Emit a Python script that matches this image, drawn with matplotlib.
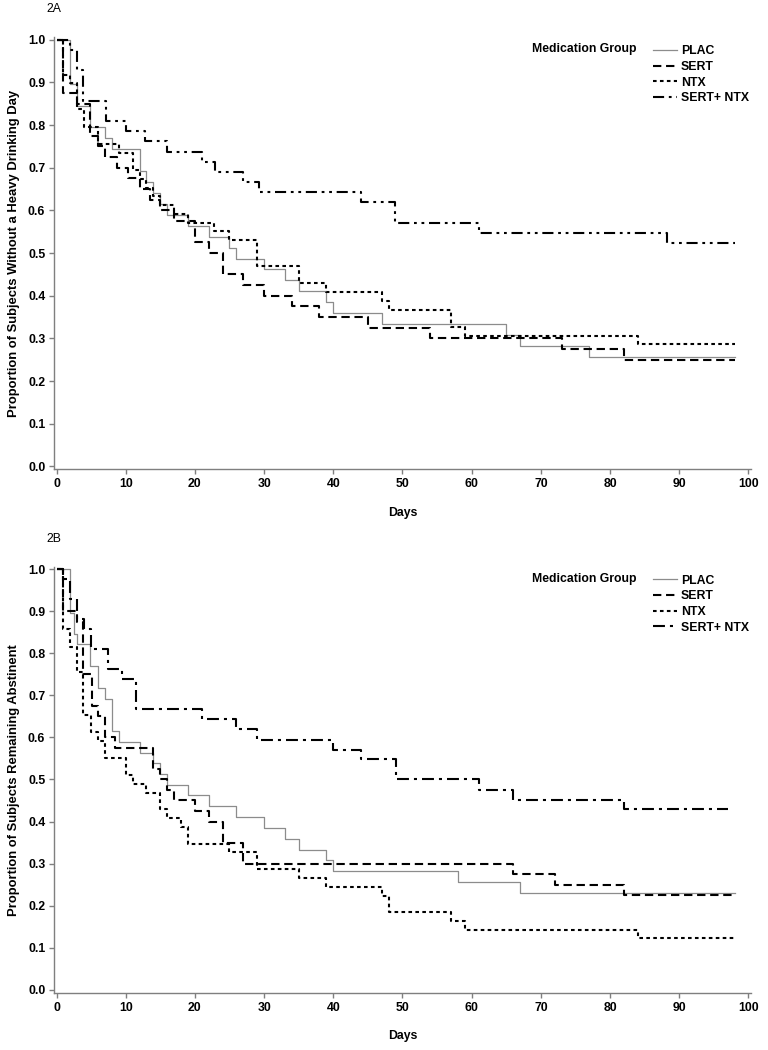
"""Kaplan-Meier style step curves by medication group, panels 2A and 2B."""
import matplotlib
matplotlib.use("Agg")
import matplotlib.pyplot as plt
from matplotlib.lines import Line2D

plt.rcParams["font.family"] = ["Liberation Sans", "DejaVu Sans"]
plt.rcParams["lines.scale_dashes"] = False

GROUPS = ["PLAC", "SERT", "NTX", "SERT+ NTX"]

# --- panel 2A: without a heavy drinking day ---
A_PLAC_T = [0, 2, 3, 4.8, 7, 8, 12, 13, 14, 15, 16, 19, 22, 25, 26, 30, 33, 35, 39, 40, 47, 65, 67, 77, 98]
A_PLAC_S = [1.0, 0.897, 0.846, 0.795, 0.769, 0.744, 0.692, 0.667, 0.641, 0.615, 0.590, 0.564, 0.538,
            0.513, 0.487, 0.462, 0.436, 0.410, 0.385, 0.359, 0.333, 0.308, 0.282, 0.256, 0.256]
A_SERT_T = [0, 1, 3, 4.8, 6, 7, 8.7, 10.4, 12, 13.5, 15, 17, 20, 22, 24, 27, 30, 34, 38, 45, 54, 73, 82, 98]
A_SERT_S = [1.0, 0.875, 0.85, 0.775, 0.75, 0.725, 0.70, 0.675, 0.65, 0.625, 0.60, 0.575, 0.525, 0.50,
            0.45, 0.425, 0.40, 0.375, 0.35, 0.325, 0.30, 0.275, 0.25, 0.25]
A_NTX_T = [0, 1, 2, 3, 4, 6, 9, 11, 12, 13, 14, 15, 17, 19, 22.7, 25, 29, 35, 39, 47, 48, 57, 59, 84, 98]
A_NTX_S = [1.0, 0.918, 0.898, 0.837, 0.796, 0.755, 0.735, 0.694, 0.673, 0.653, 0.633, 0.612, 0.592,
           0.571, 0.551, 0.531, 0.469, 0.429, 0.408, 0.388, 0.367, 0.327, 0.306, 0.286, 0.286]
A_SN_T = [0, 2, 3, 3.9, 7.2, 10, 12.8, 15.9, 21, 22.9, 27, 29.2, 44, 48.9, 61, 88.2, 98]
A_SN_S = [1.0, 0.976, 0.929, 0.857, 0.810, 0.786, 0.762, 0.738, 0.714, 0.690, 0.667, 0.643, 0.619,
          0.571, 0.548, 0.524, 0.524]

# --- panel 2B: remaining abstinent ---
B_PLAC_T = [0, 2, 2.5, 3, 4.8, 6, 7, 8, 9, 12, 14, 15, 16, 19, 22, 26, 30, 33, 35, 39, 40, 58, 67, 98]
B_PLAC_S = [1.0, 0.897, 0.846, 0.821, 0.769, 0.718, 0.692, 0.615, 0.590, 0.564, 0.538, 0.513, 0.487,
            0.462, 0.436, 0.410, 0.385, 0.359, 0.333, 0.308, 0.282, 0.256, 0.231, 0.231]
B_SERT_T = [0, 1, 3, 3.9, 5.2, 6, 7, 8.5, 14, 15, 16, 17, 20, 22, 24, 27, 66, 72, 82, 98]
B_SERT_S = [1.0, 0.90, 0.875, 0.75, 0.675, 0.65, 0.60, 0.575, 0.525, 0.50, 0.475, 0.45, 0.425, 0.40,
            0.35, 0.30, 0.275, 0.25, 0.225, 0.225]
B_NTX_T = [0, 1, 2, 3, 3.9, 5, 6, 7, 10, 11, 13, 15, 16, 18, 19, 25, 29, 35, 39, 47, 48, 57, 59, 84, 98]
B_NTX_S = [1.0, 0.857, 0.816, 0.755, 0.653, 0.612, 0.592, 0.551, 0.510, 0.490, 0.469, 0.429, 0.408,
           0.388, 0.347, 0.327, 0.286, 0.265, 0.245, 0.224, 0.184, 0.163, 0.143, 0.122, 0.122]
B_SN_T = [0, 1, 2, 3, 4, 5, 7.4, 9.4, 11.5, 21, 26, 29, 40, 44, 49, 61, 66, 82, 97]
B_SN_S = [1.0, 0.976, 0.929, 0.881, 0.857, 0.810, 0.762, 0.738, 0.667, 0.643, 0.619, 0.595, 0.571,
          0.548, 0.500, 0.476, 0.452, 0.429, 0.429]

Y_TICKS = [0.0, 0.1, 0.2, 0.3, 0.4, 0.5, 0.6, 0.7, 0.8, 0.9, 1.0]
X_TICKS = [0, 10, 20, 30, 40, 50, 60, 70, 80, 90, 100]

# line styles (dash lengths in points)
STYLE_PLAC = dict(color="#8c8c8c", lw=0.9, ls="-")
STYLE_SERT = dict(color="black", lw=1.5, ls=(0, (6.0, 3.4)))
STYLE_NTX = dict(color="black", lw=1.5, ls=(0, (2.6, 2.4)))
STYLE_SN_A = dict(color="black", lw=1.5, ls=(0, (8.0, 3.4, 2.0, 3.4, 2.0, 3.4)))
STYLE_SN_B = dict(color="black", lw=1.5, ls=(0, (8.6, 3.6, 2.2, 3.6)))

FS = 8.8
TXT = dict(fontsize=FS, fontweight="bold")
AX_GRAY = "#7f7f7f"


def draw_panel(ax, series, ylabel, tag):
    for (t, s), st in series:
        ax.step(t, s, where="post", **st)
    ax.set_xlim(-0.32, 100.35)
    ax.set_ylim(-0.007, 1.006)
    ax.set_xticks(X_TICKS)
    ax.set_yticks(Y_TICKS)
    ax.set_yticklabels([f"{v:.1f}" for v in Y_TICKS], **TXT)
    ax.set_xticklabels([str(v) for v in X_TICKS], **TXT)
    for side in ["top", "right"]:
        ax.spines[side].set_visible(False)
    for side in ["left", "bottom"]:
        ax.spines[side].set_color(AX_GRAY)
        ax.spines[side].set_linewidth(1.0)
    ax.tick_params(length=3.5, width=1.0, color=AX_GRAY, pad=3)
    ax.set_xlabel("Days", labelpad=12, **TXT)
    ax.set_ylabel(ylabel, labelpad=6, fontsize=9.4, fontweight="bold")
    ax.text(-0.011, 1.065, tag, transform=ax.transAxes, fontsize=8.8, va="center", ha="left")

    handles = [Line2D([], [], **st) for _, st in series]
    ax.text(0.686, 0.972, "Medication Group", transform=ax.transAxes, va="center", ha="left", **TXT)
    ax.legend(handles, GROUPS, loc="upper left", bbox_to_anchor=(0.852, 0.993), frameon=False,
              handlelength=2.0, handletextpad=0.3, labelspacing=0.3, borderaxespad=0,
              prop=dict(size=FS, weight="bold"))


fig = plt.figure(figsize=(7.68, 10.5), dpi=100)
ax_a = fig.add_axes([0.0707, 0.553, 0.907, 0.4115])
ax_b = fig.add_axes([0.0707, 0.0546, 0.907, 0.4057])

draw_panel(ax_a, [((A_PLAC_T, A_PLAC_S), STYLE_PLAC), ((A_SERT_T, A_SERT_S), STYLE_SERT),
                  ((A_NTX_T, A_NTX_S), STYLE_NTX), ((A_SN_T, A_SN_S), STYLE_SN_A)],
           "Proportion of Subjects Without a Heavy Drinking Day", "2A")
draw_panel(ax_b, [((B_PLAC_T, B_PLAC_S), STYLE_PLAC), ((B_SERT_T, B_SERT_S), STYLE_SERT),
                  ((B_NTX_T, B_NTX_S), STYLE_NTX), ((B_SN_T, B_SN_S), STYLE_SN_B)],
           "Proportion of Subjects Remaining Abstinent", "2B")

fig.savefig("out.png", dpi=100)
